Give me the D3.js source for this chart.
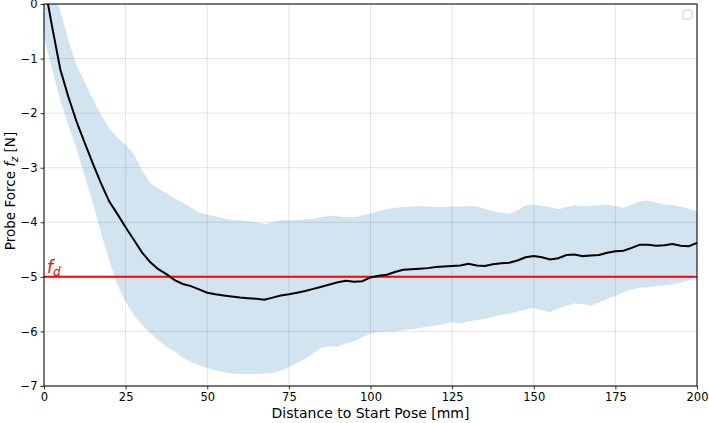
<!DOCTYPE html>
<html><head><meta charset="utf-8">
<script src="https://cdn.jsdelivr.net/npm/d3@7"></script>
<style>body{margin:0;background:#fff;} svg{display:block;font-family:"DejaVu Sans",sans-serif;}</style>
</head><body>
<svg id="chart" width="709" height="423"></svg>
<script>
const distance = d3.range(0, 201, 2.5);
const meanForce = [0.4,-0.42,-1.2,-1.71,-2.16,-2.55,-2.93,-3.29,-3.62,-3.85,-4.09,-4.32,-4.55,-4.73,-4.86,-4.95,-5.06,-5.13,-5.17,-5.23,-5.29,-5.32,-5.34,-5.36,-5.38,-5.39,-5.40,-5.42,-5.38,-5.34,-5.32,-5.29,-5.26,-5.22,-5.18,-5.14,-5.10,-5.07,-5.09,-5.08,-5.01,-4.98,-4.96,-4.91,-4.87,-4.86,-4.85,-4.84,-4.82,-4.81,-4.80,-4.79,-4.76,-4.79,-4.80,-4.77,-4.75,-4.74,-4.70,-4.64,-4.62,-4.64,-4.68,-4.66,-4.60,-4.59,-4.62,-4.61,-4.60,-4.56,-4.53,-4.52,-4.47,-4.41,-4.41,-4.43,-4.42,-4.40,-4.43,-4.44,-4.38];
const upperForce = [0.9,0.4,-0.13,-0.67,-1.13,-1.44,-1.75,-2.03,-2.29,-2.45,-2.58,-2.75,-3.04,-3.28,-3.38,-3.47,-3.56,-3.64,-3.73,-3.82,-3.86,-3.89,-3.93,-3.96,-3.96,-3.98,-4.00,-4.03,-4.00,-3.96,-3.96,-3.96,-3.95,-3.94,-3.91,-3.88,-3.89,-3.91,-3.91,-3.87,-3.84,-3.80,-3.76,-3.74,-3.72,-3.71,-3.70,-3.71,-3.72,-3.72,-3.71,-3.71,-3.70,-3.71,-3.75,-3.80,-3.82,-3.85,-3.78,-3.69,-3.68,-3.70,-3.72,-3.76,-3.72,-3.69,-3.70,-3.70,-3.69,-3.68,-3.70,-3.74,-3.68,-3.62,-3.60,-3.64,-3.67,-3.69,-3.71,-3.75,-3.80];
const lowerForce = [-0.6,-1.2,-1.77,-2.22,-2.66,-3.16,-3.65,-4.2,-4.71,-5.15,-5.45,-5.70,-5.88,-6.03,-6.16,-6.28,-6.37,-6.48,-6.56,-6.62,-6.67,-6.71,-6.75,-6.77,-6.78,-6.78,-6.78,-6.77,-6.76,-6.72,-6.65,-6.58,-6.50,-6.40,-6.30,-6.27,-6.28,-6.22,-6.18,-6.10,-6.04,-6.01,-6.00,-6.00,-5.98,-5.96,-5.94,-5.91,-5.89,-5.86,-5.83,-5.85,-5.82,-5.79,-5.77,-5.73,-5.70,-5.67,-5.64,-5.60,-5.57,-5.61,-5.65,-5.58,-5.53,-5.49,-5.50,-5.53,-5.47,-5.40,-5.35,-5.28,-5.23,-5.20,-5.19,-5.17,-5.16,-5.14,-5.11,-5.06,-4.94];
const desiredForce = -5;
const xTicks = [0,25,50,75,100,125,150,175,200];
const yTicks = [0,-1,-2,-3,-4,-5,-6,-7];

const svg = d3.select("#chart");
const m = {l:44, r:12, t:4, b:37};
const W = 709, H = 423;
const x = d3.scaleLinear().domain([0,200]).range([m.l, W-m.r]);
const y = d3.scaleLinear().domain([-7,0]).range([H-m.b, m.t]);
const fmt = v => (v<0 ? "\u2212"+Math.abs(v) : String(v));

svg.append("clipPath").attr("id","clip").append("rect")
  .attr("x",m.l).attr("y",m.t).attr("width",W-m.r-m.l).attr("height",H-m.b-m.t);

// grid
const g = svg.append("g");
g.selectAll(".gx").data(xTicks).join("line")
  .attr("x1",d=>x(d)).attr("x2",d=>x(d)).attr("y1",m.t).attr("y2",H-m.b)
  .attr("stroke","#b0b0b0").attr("stroke-opacity",0.45).attr("stroke-width",0.8);
g.selectAll(".gy").data(yTicks).join("line")
  .attr("y1",d=>y(d)).attr("y2",d=>y(d)).attr("x1",m.l).attr("x2",W-m.r)
  .attr("stroke","#b0b0b0").attr("stroke-opacity",0.45).attr("stroke-width",0.8);

const data = distance.map((d,i)=>({d, mean:meanForce[i], lo:lowerForce[i], hi:upperForce[i]}));
const plot = svg.append("g").attr("clip-path","url(#clip)");
plot.append("path").datum(data)
  .attr("d", d3.area().x(p=>x(p.d)).y0(p=>y(p.lo)).y1(p=>y(p.hi)))
  .attr("fill","#1f77b4").attr("fill-opacity",0.2);
plot.append("line").attr("x1",x(0)).attr("x2",x(200)).attr("y1",y(desiredForce)).attr("y2",y(desiredForce))
  .attr("stroke","#ff0000").attr("stroke-width",2);
plot.append("path").datum(data)
  .attr("d", d3.line().x(p=>x(p.d)).y(p=>y(p.mean)))
  .attr("fill","none").attr("stroke","#000").attr("stroke-width",2);

// f_d label
const fl = svg.append("text").attr("x",x(0)+3).attr("y",y(desiredForce)-4)
  .attr("fill","#ff0000").attr("font-size",17);
fl.append("tspan").attr("font-style","italic").text("f");
fl.append("tspan").attr("font-style","italic").attr("font-size",12).attr("dy",3).text("d");

// axes
const xa = svg.append("g").attr("transform",`translate(0,${H-m.b})`)
  .call(d3.axisBottom(x).tickValues(xTicks).tickFormat(fmt).tickSize(3.5).tickPadding(3));
const ya = svg.append("g").attr("transform",`translate(${m.l},0)`)
  .call(d3.axisLeft(y).tickValues(yTicks).tickFormat(fmt).tickSize(3.5).tickPadding(3));
[xa,ya].forEach(a=>{
  a.select(".domain").remove();
  a.selectAll("text").attr("font-size",11.5).attr("fill","#000").attr("font-family","DejaVu Sans");
  a.selectAll("line").attr("stroke","#000").attr("stroke-width",0.8);
});
svg.append("rect").attr("x",m.l).attr("y",m.t).attr("width",W-m.r-m.l).attr("height",H-m.b-m.t)
  .attr("fill","none").attr("stroke","#000").attr("stroke-width",1);

// empty legend
svg.append("rect").attr("x",683).attr("y",10).attr("width",9).attr("height",9).attr("rx",2)
  .attr("fill","#fff").attr("stroke","#cccccc").attr("stroke-width",1);

// axis labels
svg.append("text").attr("x",(m.l+W-m.r)/2).attr("y",418).attr("text-anchor","middle")
  .attr("font-size",14).text("Distance to Start Pose [mm]");
const yl = svg.append("text").attr("transform",`translate(15,191) rotate(-90)`)
  .attr("text-anchor","middle").attr("font-size",13.5);
yl.append("tspan").text("Probe Force ");
yl.append("tspan").attr("font-style","italic").text("f");
yl.append("tspan").attr("font-style","italic").attr("font-size",10).attr("dy",3).text("z");
yl.append("tspan").attr("dy",-3).text(" [N]");
</script>
</body></html>
